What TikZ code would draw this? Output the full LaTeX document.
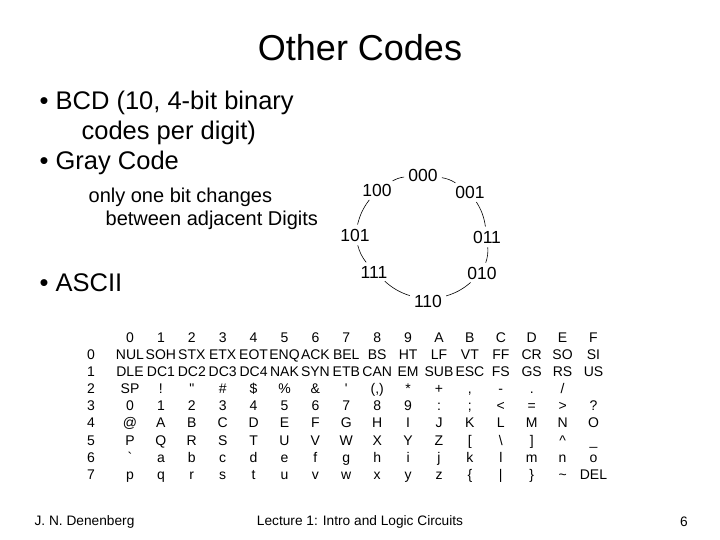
\documentclass[tikz,border=0pt]{standalone}
\usepackage{fontspec}
\setmainfont{Liberation Sans}
\newcommand\asccomma{,}
\begin{document}
\begin{tikzpicture}[x=1pt,y=-1pt,semithick,
                    code/.style={font=\fontsize{17.5}{20}\selectfont,inner sep=1pt},
                    cell/.style={font=\fontsize{14}{16}\selectfont,inner sep=0pt,anchor=base,yshift=-5pt},
                    bullet/.style={anchor=west,font=\fontsize{25.5}{28}\selectfont}]
\useasboundingbox (0,0) rectangle (720,540);
\node (title) at (360,48) {\fontsize{36}{40}\selectfont Other Codes};

\node[bullet] (b1) at (36,103) {\textbullet\ BCD (10, 4-bit binary};
\node[bullet] (b1a) at (78,133) {codes per digit)};
\node[bullet] (b2) at (36,163) {\textbullet\ Gray Code};
\node[anchor=west,font=\fontsize{20}{22}\selectfont] (g1) at (85,197) {only one bit changes};
\node[anchor=west,font=\fontsize{20}{22}\selectfont] (g2) at (102,220) {between adjacent Digits};
\node[bullet] (b3) at (36,283) {\textbullet\ ASCII};

% gray code ring
\node[code] (n000) at (423,175) {000};
\node[code] (n001) at (470,192) {001};
\node[code] (n011) at (487,237) {011};
\node[code] (n010) at (482,273) {010};
\node[code] (n110) at (428,301) {110};
\node[code] (n111) at (374,272) {111};
\node[code] (n101) at (355,235) {101};
\node[code] (n100) at (377,190) {100};
\foreach \a/\b in {n000/n001,n001/n011,n011/n010,n010/n110,n110/n111,n111/n101,n101/n100,n100/n000}
  \draw[shorten >=3pt,shorten <=3pt] (\a) to[bend left=12] (\b);

% ascii table
\foreach \c [count=\i from 0] in {0,1,2,3,4,5,6,7,8,9,A,B,C,D,E,F}
  \node[cell] (h\i) at ({130+\i*30.9},337) {\c};
\foreach \r in {0,...,7}
  \node[cell] (r\r) at (91,{354+\r*17.2}) {\r};
\foreach \e [count=\i from 0] in {NUL,SOH,STX,ETX,EOT,ENQ,ACK,BEL,BS,HT,LF,VT,FF,CR,SO,SI}
  \node[cell] (c0-\i) at ({130+\i*30.9},354) {\e};
\foreach \e [count=\i from 0] in {DLE,DC1,DC2,DC3,DC4,NAK,SYN,ETB,CAN,EM,SUB,ESC,FS,GS,RS,US}
  \node[cell] (c1-\i) at ({130+\i*30.9},371.2) {\e};
\foreach \e [count=\i from 0] in {SP,!,\textquotedbl,\#,\$,\%,\&,\textquotesingle,(,),*,+,\asccomma,-,.,/}
  \node[cell] (c2-\i) at ({130+\i*30.9},388.4) {\e};
\foreach \e [count=\i from 0] in {0,1,2,3,4,5,6,7,8,9,:,;,<,=,>,?}
  \node[cell] (c3-\i) at ({130+\i*30.9},405.6) {\e};
\foreach \e [count=\i from 0] in {@,A,B,C,D,E,F,G,H,I,J,K,L,M,N,O}
  \node[cell] (c4-\i) at ({130+\i*30.9},422.8) {\e};
\foreach \e [count=\i from 0] in {P,Q,R,S,T,U,V,W,X,Y,Z,[,\textbackslash,],\textasciicircum,\_}
  \node[cell] (c5-\i) at ({130+\i*30.9},440) {\e};
\foreach \e [count=\i from 0] in {\textasciigrave,a,b,c,d,e,f,g,h,i,j,k,l,m,n,o}
  \node[cell] (c6-\i) at ({130+\i*30.9},457.2) {\e};
\foreach \e [count=\i from 0] in {p,q,r,s,t,u,v,w,x,y,z,\{,|,\},\textasciitilde,DEL}
  \node[cell] (c7-\i) at ({130+\i*30.9},474.4) {\e};

% footer
\node[anchor=west,font=\fontsize{13.7}{15}\selectfont] (auth) at (31,522) {J. N. Denenberg};
\node[font=\fontsize{13.7}{15}\selectfont] (lect) at (360,522) {Lecture 1: Intro and Logic Circuits};
\node[font=\fontsize{13.7}{15}\selectfont] (page) at (684,522) {6};
\end{tikzpicture}
\end{document}
